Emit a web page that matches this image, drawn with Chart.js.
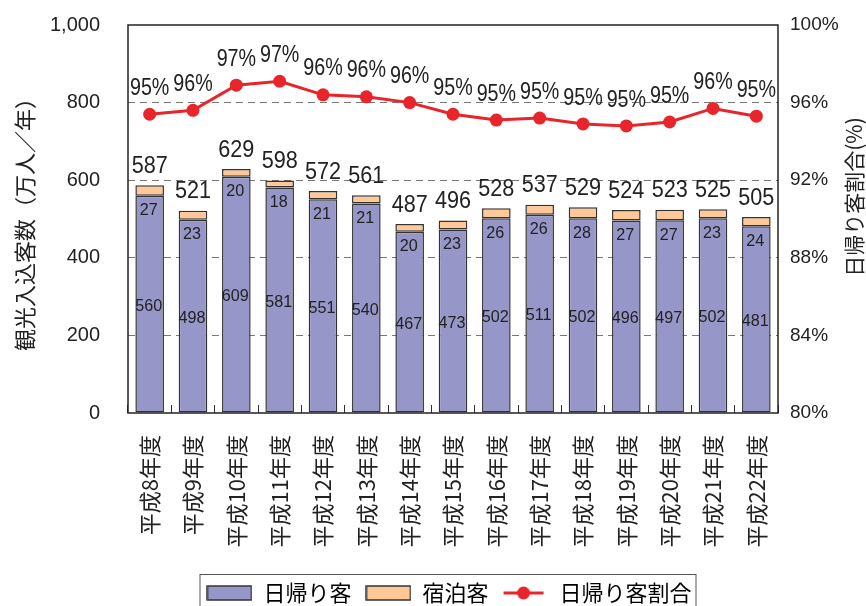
<!DOCTYPE html>
<html>
<head>
<meta charset="utf-8">
<script src="https://cdn.jsdelivr.net/npm/chart.js@4.4.1/dist/chart.umd.min.js"></script>
<style>
  html, body { margin: 0; padding: 0; background: #fff; }
</style>
</head>
<body>
<canvas id="c" width="866" height="606"></canvas>
<script>
// data
const years = ['平成8年度', '平成9年度', '平成10年度', '平成11年度', '平成12年度', '平成13年度', '平成14年度',
  '平成15年度', '平成16年度', '平成17年度', '平成18年度', '平成19年度', '平成20年度', '平成21年度', '平成22年度'];
const dayTrip = [560, 498, 609, 581, 551, 540, 467, 473, 502, 511, 502, 496, 497, 502, 481];
const overnight = [27, 23, 20, 18, 21, 21, 20, 23, 26, 26, 28, 27, 27, 23, 24];
const totals = [587, 521, 629, 598, 572, 561, 487, 496, 528, 537, 529, 524, 523, 525, 505];
const dayRatio = [95.4, 95.6, 96.9, 97.1, 96.4, 96.3, 96.0, 95.4, 95.1, 95.2, 94.9, 94.8, 95.0, 95.7, 95.3];

const PURPLE = '#9696c8', ORANGE = '#ffc896', RED = '#e8252a', EDGE = '#333';
const jpFont = "'Noto Sans CJK JP', sans-serif";
const numFont = "'Liberation Sans', Arial, sans-serif";

// legend icons
function boxIcon(fill) {
  const c = document.createElement('canvas');
  c.width = 46; c.height = 16;
  const g = c.getContext('2d');
  g.fillStyle = fill;
  g.fillRect(1, 1, 44, 14);
  g.strokeStyle = EDGE; g.lineWidth = 1.5;
  g.strokeRect(1, 1, 44, 14);
  return c;
}
function lineIcon() {
  const c = document.createElement('canvas');
  c.width = 46; c.height = 16;
  const g = c.getContext('2d');
  g.strokeStyle = RED; g.lineWidth = 3;
  g.beginPath(); g.moveTo(1, 8); g.lineTo(41, 8); g.stroke();
  g.fillStyle = RED;
  g.beginPath(); g.arc(21, 8, 6.5, 0, Math.PI * 2); g.fill();
  return c;
}

// condensed text helper
function squeezed(ctx, text, x, y, sx) {
  ctx.save();
  ctx.translate(x, y);
  ctx.scale(sx, 1);
  ctx.fillText(text, 0, 0);
  ctx.restore();
}

const valueLabels = {
  id: 'valueLabels',
  afterDatasetsDraw(chart) {
    const ctx = chart.ctx;
    const dayMeta = chart.getDatasetMeta(0);
    const ovMeta = chart.getDatasetMeta(1);
    const lineMeta = chart.getDatasetMeta(2);
    ctx.save();
    ctx.fillStyle = '#222';
    ctx.textAlign = 'center';
    ctx.textBaseline = 'middle';
    ctx.font = '17px ' + numFont;
    dayMeta.data.forEach((bar, i) => {
      squeezed(ctx, dayTrip[i], bar.x - 1, (bar.y + bar.base) / 2 + 2, 0.95);
      squeezed(ctx, overnight[i], bar.x - 1, bar.y + 15, 0.95);
    });
    ctx.font = '24px ' + numFont;
    ovMeta.data.forEach((bar, i) => {
      squeezed(ctx, totals[i], bar.x, bar.y - 19, 0.9);
    });
    lineMeta.data.forEach((pt, i) => {
      squeezed(ctx, Math.round(dayRatio[i]) + '%', pt.x, pt.y - 26, 0.82);
    });
    ctx.restore();
  }
};

const frame = {
  id: 'frame',
  beforeDatasetsDraw(chart) {
    const a = chart.chartArea, ctx = chart.ctx;
    ctx.save();
    ctx.strokeStyle = '#222';
    ctx.lineWidth = 1.5;
    ctx.strokeRect(a.left, a.top, a.right - a.left, a.bottom - a.top);
    ctx.restore();
  },
  afterLayout(chart) {
    const lg = chart.legend;
    lg.top += 8; lg.bottom += 8;
    lg.left += 16; lg.right += 16;
  },
  afterDraw(chart) {
    const ctx = chart.ctx, a = chart.chartArea;
    // right axis title, reading bottom to top
    ctx.save();
    ctx.fillStyle = '#222';
    ctx.font = '21px ' + jpFont;
    ctx.textAlign = 'center';
    ctx.textBaseline = 'middle';
    ctx.translate(854, (a.top + a.bottom) / 2 - 22);
    ctx.rotate(-Math.PI / 2);
    ctx.fillText('日帰り客割合(%)', 0, 0);
    ctx.restore();
    // legend frame
    const hb = chart.legend.legendHitBoxes;
    if (hb && hb.length) {
      const first = hb[0], last = hb[hb.length - 1];
      const left = first.left - 7, right = last.left + last.width + 4;
      ctx.save();
      ctx.strokeStyle = '#555';
      ctx.lineWidth = 1;
      ctx.strokeRect(left + 0.5, first.top + first.height / 2 - 18.5, right - left, 60);
      ctx.restore();
    }
  }
};

new Chart(document.getElementById('c'), {
  type: 'bar',
  data: {
    labels: years,
    datasets: [
      {
        label: '日帰り客', data: dayTrip, backgroundColor: PURPLE,
        borderColor: EDGE, borderWidth: 1.5, borderSkipped: false,
        stack: 's', yAxisID: 'y', order: 2,
        barPercentage: 0.66, categoryPercentage: 1
      },
      {
        label: '宿泊客', data: overnight, backgroundColor: ORANGE,
        borderColor: EDGE, borderWidth: 1.5, borderSkipped: false,
        stack: 's', yAxisID: 'y', order: 2,
        barPercentage: 0.66, categoryPercentage: 1
      },
      {
        type: 'line', label: '日帰り客割合', data: dayRatio, yAxisID: 'y1', order: 1,
        borderColor: RED, backgroundColor: RED, borderWidth: 3,
        pointRadius: 6.5, pointBackgroundColor: RED, pointBorderWidth: 0, tension: 0
      }
    ]
  },
  options: {
    responsive: false,
    devicePixelRatio: 1,
    animation: false,
    layout: { padding: { top: 25, left: 0, right: 0, bottom: 0 } },
    plugins: {
      tooltip: { enabled: false },
      legend: {
        position: 'bottom',
        labels: {
          usePointStyle: true,
          pointStyleWidth: 46,
          padding: 14,
          color: '#222',
          font: { family: jpFont, size: 22 },
          generateLabels() {
            return [
              { text: '日帰り客', pointStyle: boxIcon(PURPLE), datasetIndex: 0, lineWidth: 0 },
              { text: '宿泊客', pointStyle: boxIcon(ORANGE), datasetIndex: 1, lineWidth: 0 },
              { text: '日帰り客割合', pointStyle: lineIcon(), datasetIndex: 2, lineWidth: 0 }
            ];
          }
        }
      }
    },
    scales: {
      x: {
        stacked: true,
        grid: { offset: true, drawOnChartArea: false, drawTicks: true, tickLength: -8, color: '#333', lineWidth: 1 },
        border: { display: false },
        ticks: {
          autoSkip: false, minRotation: 90, maxRotation: 90, padding: 30,
          color: '#222', font: { family: jpFont, size: 22 }
        },
        afterFit(s) { s.height = 606 - 413 - s.chart.legend.height; }
      },
      y: {
        stacked: true, position: 'left', min: 0, max: 1000,
        ticks: { stepSize: 200, padding: 28, color: '#222', font: { family: numFont, size: 20 } },
        grid: {
          drawTicks: false, lineWidth: 1,
          color: c => (c.tick && (c.tick.value === 0 || c.tick.value === 1000)) ? 'rgba(0,0,0,0)' : '#777'
        },
        border: { display: false, dash: [7, 5] },
        title: {
          display: true, text: '観光入込客数（万人／年）', color: '#222',
          font: { family: jpFont, size: 22 }, padding: { top: 11, bottom: 0 }
        },
        afterFit(s) { s.width = 128; s.paddingTop = 0; s.paddingBottom = 0; }
      },
      y1: {
        position: 'right', min: 80, max: 100,
        ticks: { stepSize: 4, padding: 12, color: '#222', font: { family: numFont, size: 19 }, callback: v => v + '%' },
        grid: { display: false, drawTicks: false },
        border: { display: false },
        afterFit(s) { s.width = 88; s.paddingTop = 0; s.paddingBottom = 0; }
      }
    }
  },
  plugins: [valueLabels, frame]
});
</script>
</body>
</html>
